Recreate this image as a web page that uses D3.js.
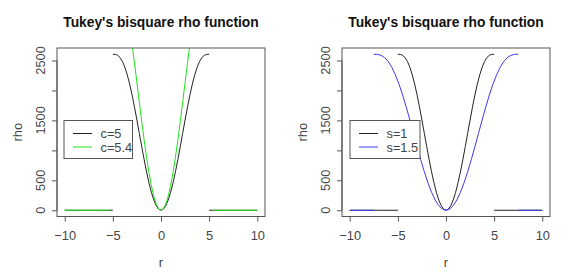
<!DOCTYPE html>
<html lang="en">
<head>
  <meta charset="UTF-8">
  <title>Tukey's bisquare rho function</title>
  <style>
    body { margin: 0; background: #fff; }
    text { font-family: "Liberation Sans", Arial, sans-serif; }
  </style>
</head>
<body>
  <svg width="573" height="277" id="chart"></svg>
  <script src="https://d3js.org/d3.v7.min.js"></script>
  <script>
    // grid of r for the c=5 / s=1 curve
    const rGridC5 = [-5, -4.75, -4.5, -4.25, -4, -3.75, -3.5, -3.25, -3, -2.75, -2.5, -2.25, -2, -1.75, -1.5, -1.25, -1, -0.75, -0.5, -0.25,
      0, 0.25, 0.5, 0.75, 1, 1.25, 1.5, 1.75, 2, 2.25, 2.5, 2.75, 3, 3.25, 3.5, 3.75, 4, 4.25, 4.5, 4.75, 5];
    const rhoC5 = [2604.2, 2601.8, 2586.3, 2548.5, 2482.7, 2386.1, 2258.7, 2102.6, 1921.5, 1720.5, 1505.5, 1283.3, 1060.7, 844.6, 641.7, 458.4, 300.2, 171.9, 77.3, 19.5,
      0, 19.5, 77.3, 171.9, 300.2, 458.4, 641.7, 844.6, 1060.7, 1283.3, 1505.5, 1720.5, 1921.5, 2102.6, 2258.7, 2386.1, 2482.7, 2548.5, 2586.3, 2601.8, 2604.2];

    // c=5.4, runs off the top of the plot
    const rGridC54 = [-3.5, -3.25, -3, -2.75, -2.5, -2.25, -2, -1.75, -1.5, -1.25, -1, -0.75, -0.5, -0.25,
      0, 0.25, 0.5, 0.75, 1, 1.25, 1.5, 1.75, 2, 2.25, 2.5, 2.75, 3, 3.25, 3.5];
    const rhoC54 = [3326.6, 3060.4, 2766.9, 2453.5, 2128.4, 1800.3, 1478.0, 1170.1, 884.7, 629.3, 410.7, 234.6, 105.4, 26.5,
      0, 26.5, 105.4, 234.6, 410.7, 629.3, 884.7, 1170.1, 1478.0, 1800.3, 2128.4, 2453.5, 2766.9, 3060.4, 3326.6];

    // s=1.5
    const rGridS15 = [-7.5, -7.125, -6.75, -6.375, -6, -5.625, -5.25, -4.875, -4.5, -4.125, -3.75, -3.375, -3, -2.625, -2.25, -1.875, -1.5, -1.125, -0.75, -0.375,
      0, 0.375, 0.75, 1.125, 1.5, 1.875, 2.25, 2.625, 3, 3.375, 3.75, 4.125, 4.5, 4.875, 5.25, 5.625, 6, 6.375, 6.75, 7.125, 7.5];
    const rhoS15 = [2604.2, 2601.8, 2586.3, 2548.5, 2482.7, 2386.1, 2258.7, 2102.6, 1921.5, 1720.5, 1505.5, 1283.3, 1060.7, 844.6, 641.7, 458.4, 300.2, 171.9, 77.3, 19.5,
      0, 19.5, 77.3, 171.9, 300.2, 458.4, 641.7, 844.6, 1060.7, 1283.3, 1505.5, 1720.5, 1921.5, 2102.6, 2258.7, 2386.1, 2482.7, 2548.5, 2586.3, 2601.8, 2604.2];

    // flat zero parts outside the cut-off
    const zeroC5 = [[-10, -5], [5, 10]];
    const zeroC54 = [[-10, -5.4], [5.4, 10]];
    const zeroS15 = [[-10, -7.5], [7.5, 10]];

    const xTicks = [-10, -5, 0, 5, 10];
    const yTicks = [0, 500, 1000, 1500, 2000, 2500];
    const yTickLabels = [0, 500, 1500, 2500];   // R drops 1000 and 2000 (overlap)

    const titleText = "Tukey's bisquare rho function";
    const legendLeft = ['c=5', 'c=5.4'];
    const legendRight = ['s=1', 's=1.5'];

    const svg = d3.select('#chart');
    const fs = 12.8;

    function panel(left, series, labels, legendBox) {
      let right = left + 208, top = 48, bottom = 216.5;
      let x = d3.scaleLinear().domain([-10.8, 10.8]).range([left, right]);
      let y = d3.scaleLinear().domain([-104.2, 2708.3]).range([bottom, top]);
      let id = 'clip' + Math.round(left);
      let g = svg.append('g');

      g.append('clipPath').attr('id', id).append('rect')
          .attr('x', left).attr('y', top).attr('width', right - left).attr('height', bottom - top);

      g.append('text')
          .attr('x', (left + right) / 2).attr('y', 27)
          .attr('text-anchor', 'middle')
          .attr('font-size', 13.8).attr('font-weight', 'bold').attr('fill', '#111')
          .text(titleText);

      let plot = g.append('g').attr('clip-path', `url(#${id})`);
      let line = d3.line().x(d => x(d[0])).y(d => y(d[1]));

      series.forEach(s => {
        let pts = s.r.map((r, i) => [r, s.rho[i]]);
        plot.append('path').attr('d', line(pts))
            .attr('fill', 'none').attr('stroke', s.color).attr('stroke-width', 1);
        s.zero.forEach(z => {
          plot.append('path').attr('d', line(z.map(r => [r, 0])))
              .attr('fill', 'none').attr('stroke', s.color).attr('stroke-width', 1);
        });
      });

      g.append('rect')
          .attr('x', left).attr('y', top).attr('width', right - left).attr('height', bottom - top)
          .attr('fill', 'none').attr('stroke', '#555').attr('stroke-width', 1);

      // x axis
      let xa = g.append('g').attr('transform', `translate(0,${bottom})`)
          .call(d3.axisBottom(x).tickValues(xTicks).tickSize(5).tickPadding(9));
      xa.select('.domain').attr('d', `M${x(-10)},0H${x(10)}`).attr('stroke', '#555');
      xa.selectAll('.tick line').attr('stroke', '#555');
      xa.selectAll('text').attr('font-size', fs).attr('fill', '#444')
          .attr('font-family', '"Liberation Sans", Arial, sans-serif');

      // y axis
      let ya = g.append('g').attr('transform', `translate(${left},0)`)
          .call(d3.axisLeft(y).tickValues(yTicks).tickSize(5).tickFormat(''));
      ya.select('.domain').attr('d', `M0,${y(0)}V${y(2500)}`).attr('stroke', '#555');
      ya.selectAll('.tick line').attr('stroke', '#555');
      g.selectAll('.ylab').data(yTickLabels).join('text')
          .attr('class', 'ylab')
          .attr('transform', d => `translate(${left - 12.5},${y(d)}) rotate(-90)`)
          .attr('text-anchor', 'middle')
          .attr('font-size', fs).attr('fill', '#444')
          .text(d => d);

      g.append('text')
          .attr('x', (left + right) / 2).attr('y', 267)
          .attr('text-anchor', 'middle').attr('font-size', fs).attr('fill', '#444')
          .text('r');
      g.append('text')
          .attr('transform', `translate(${left - 35},${(top + bottom) / 2}) rotate(-90)`)
          .attr('text-anchor', 'middle').attr('font-size', fs).attr('fill', '#444')
          .text('rho');

      // legend
      let lg = g.append('g');
      lg.append('rect')
          .attr('x', legendBox.x).attr('y', 120.5).attr('width', legendBox.w).attr('height', 38)
          .attr('fill', '#fff').attr('stroke', '#555').attr('stroke-width', 1);
      labels.forEach((lab, i) => {
        let ly = 133.5 + i * 13.5;
        lg.append('line')
            .attr('x1', legendBox.x + 9).attr('x2', legendBox.x + 28)
            .attr('y1', ly).attr('y2', ly)
            .attr('stroke', series[i].color).attr('stroke-width', 1);
        lg.append('text')
            .attr('x', legendBox.x + 36.5).attr('y', ly + 4.5)
            .attr('font-size', fs).attr('fill', '#444')
            .text(lab);
      });
    }

    panel(57, [
      {r: rGridC5, rho: rhoC5, zero: zeroC5, color: '#222'},
      {r: rGridC54, rho: rhoC54, zero: zeroC54, color: '#1ee01e'}
    ], legendLeft, {x: 64, w: 68.5});

    panel(342, [
      {r: rGridC5, rho: rhoC5, zero: zeroC5, color: '#222'},
      {r: rGridS15, rho: rhoS15, zero: zeroS15, color: '#3a3aee'}
    ], legendRight, {x: 350, w: 70});
  </script>
</body>
</html>
